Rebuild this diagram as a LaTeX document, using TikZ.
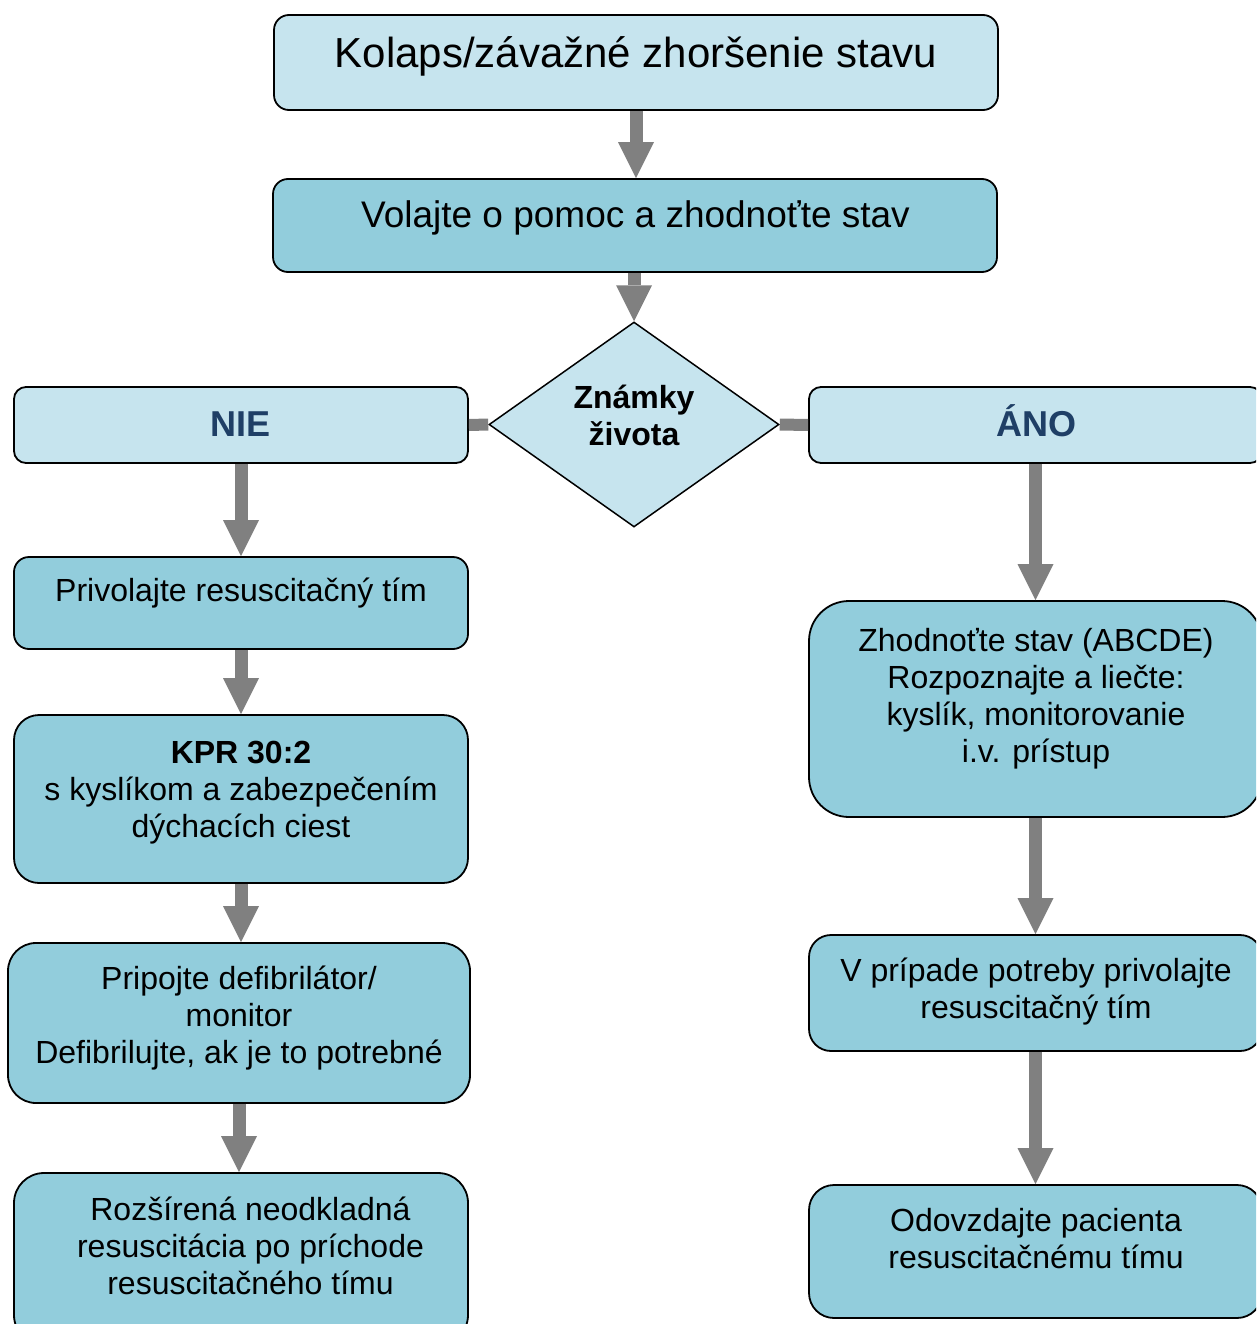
\documentclass[tikz,border=0pt]{standalone}
\usepackage{fontspec}
\setmainfont{Liberation Sans}
\usetikzlibrary{shapes.geometric,arrows.meta}
\definecolor{lightfill}{HTML}{C6E4EE}
\definecolor{darkfill}{HTML}{92CDDC}
\definecolor{niecol}{HTML}{1F3F66}
\definecolor{arrowgray}{HTML}{808080}
\tikzset{
  box/.style={draw=black, line width=1.8pt, rectangle, inner sep=0pt},
  lightbox/.style={box, fill=lightfill},
  darkbox/.style={box, fill=darkfill},
  txt/.style={anchor=base, align=center, inner sep=0pt, font=\fontsize{32}{36.7}\selectfont},
  flow/.style={draw=arrowgray, line width=13pt, -{Triangle[width=36pt,length=36pt,line width=0pt]}},
  link/.style={draw=arrowgray, line width=12pt},
}
\begin{document}
\begin{tikzpicture}[x=1pt,y=-1pt]
\useasboundingbox (0,0) rectangle (1256,1324);
\clip (0,0) rectangle (1256,1324);

% boxes
\node[lightbox, rounded corners=15pt, minimum width=724pt, minimum height=95pt] (b1) at (636,62.5) {};
\node[darkbox, rounded corners=15pt, minimum width=724pt, minimum height=93pt] (b2) at (635,225.5) {};
\node[diamond, draw=black, line width=1.5pt, fill=lightfill, minimum width=290pt, minimum height=205pt, inner sep=0pt] (dia) at (634,424.5) {};
\node[lightbox, rounded corners=12pt, minimum width=454pt, minimum height=76pt] (nie) at (241,425) {};
\node[lightbox, rounded corners=12pt, minimum width=453pt, minimum height=76pt] (ano) at (1035.5,425) {};
\node[darkbox, rounded corners=15pt, minimum width=454pt, minimum height=92pt] (p1) at (241,603) {};
\node[darkbox, rounded corners=25pt, minimum width=454pt, minimum height=168pt] (kpr) at (241,799) {};
\node[darkbox, rounded corners=28pt, minimum width=462pt, minimum height=160pt] (pri) at (239,1023) {};
\node[darkbox, rounded corners=30pt, minimum width=454pt, minimum height=172pt] (roz) at (241,1259) {};
\node[darkbox, rounded corners=40pt, minimum width=453pt, minimum height=216pt] (zh) at (1035.5,709) {};
\node[darkbox, rounded corners=22pt, minimum width=453pt, minimum height=116pt] (vp) at (1035.5,993) {};
\node[darkbox, rounded corners=25pt, minimum width=453pt, minimum height=133pt] (od) at (1035.5,1251.5) {};

% texts (anchor base = baseline of the last line)
\node[txt, font=\fontsize{42}{48}\selectfont] (t1) at (636,68) {Kolaps/závažné zhoršenie stavu};
\node[txt, font=\fontsize{37}{42}\selectfont] (t2) at (635.5,228) {Volajte o pomoc a zhodnoťte stav};
\node[txt, font=\fontsize{32}{37}\selectfont\bfseries] (tdia) at (634,445) {Známky\\života};
\node[txt, font=\fontsize{36}{41}\selectfont\bfseries, text=niecol] (tnie) at (241,436) {NIE};
\node[txt, font=\fontsize{36}{41}\selectfont\bfseries, text=niecol] (tano) at (1036,436) {ÁNO};
\node[txt] (tp1) at (241,601) {Privolajte resuscitačný tím};
\node[txt] (tkpr) at (241,837) {\textbf{KPR 30:2}\\s kyslíkom a zabezpečením\\dýchacích ciest};
\node[txt] (tpri) at (239,1063) {Pripojte defibrilátor/\\monitor\\Defibrilujte, ak je to potrebné};
\node[txt] (troz) at (250.5,1294) {Rozšírená neodkladná\\resuscitácia po príchode\\resuscitačného tímu};
\node[txt] (tzh) at (1036,762) {Zhodnoťte stav (ABCDE)\\Rozpoznajte a liečte:\\kyslík, monitorovanie\\i.v. prístup};
\node[txt] (tvp) at (1036,1018) {V prípade potreby privolajte\\resuscitačný tím};
\node[txt] (tod) at (1036,1268) {Odovzdajte pacienta\\resuscitačnému tímu};

% connectors
\draw[flow] (b1.south) -- (b1.south |- b2.north);
\draw[flow] (b2.south -| dia.north) -- (dia.north);
\draw[link] (nie.east) -- (dia.west);
\draw[link] (dia.east) -- (ano.west);
\draw[flow] (nie.south) -- (p1.north);
\draw[flow] (p1.south) -- (kpr.north);
\draw[flow] (kpr.south) -- (kpr.south |- pri.north);
\draw[flow] (pri.south) -- (pri.south |- roz.north);
\draw[flow] (ano.south) -- (zh.north);
\draw[flow] (zh.south) -- (vp.north);
\draw[flow] (vp.south) -- (od.north);
\end{tikzpicture}
\end{document}
